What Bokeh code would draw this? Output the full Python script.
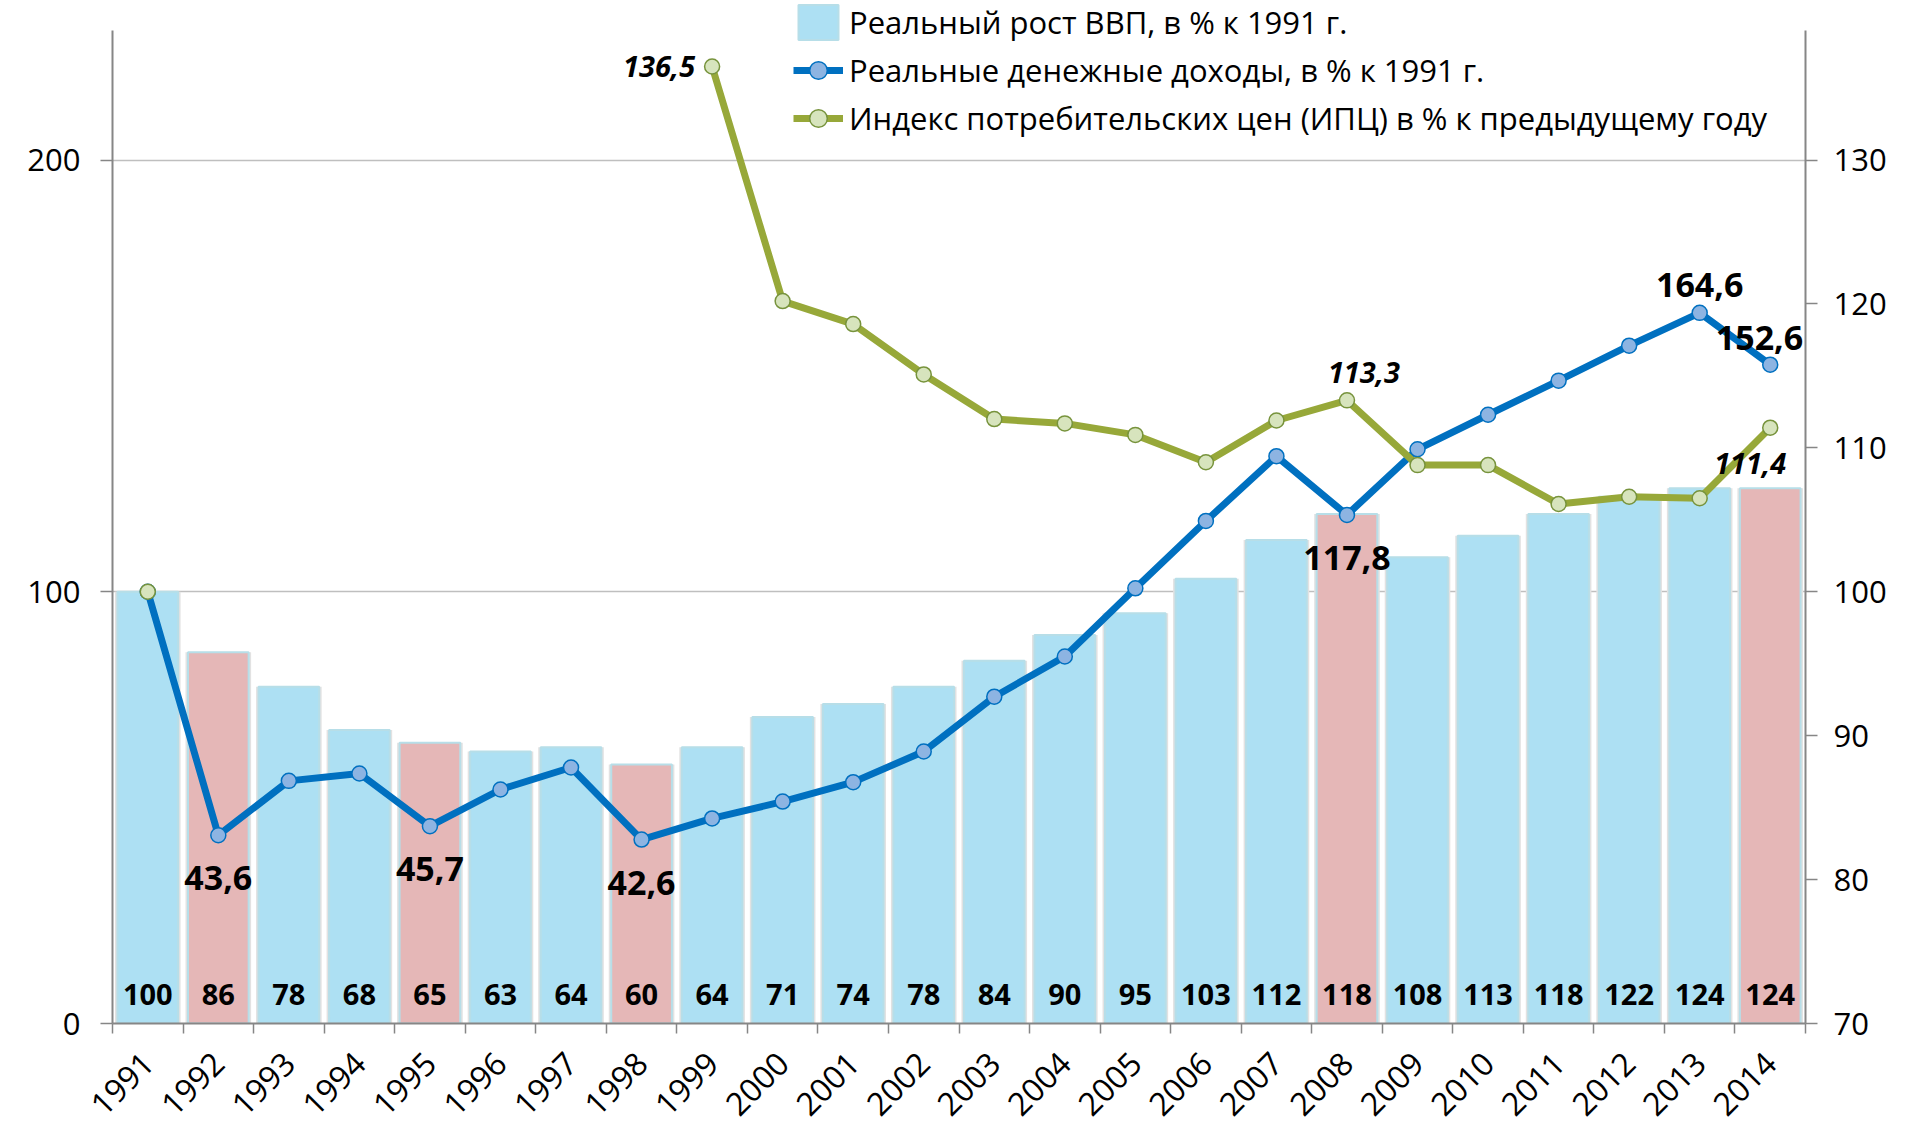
import numpy as np
from bokeh.plotting import figure
from bokeh.models import (ColumnDataSource, Range1d, LinearAxis, FixedTicker,
                          Legend, LegendItem, LabelSet)
from bokeh.core.properties import value
from bokeh.embed import file_html
from bokeh.resources import INLINE

# ---------------- data ----------------
years = list(range(1991, 2015))
gdp = [100, 86, 78, 68, 65, 63, 64, 60, 64, 71, 74, 78, 84, 90, 95, 103,
       112, 118, 108, 113, 118, 122, 124, 124]
crisis_years = [1992, 1995, 1998, 2008, 2014]
income = [100, 43.6, 56.2, 57.9, 45.7, 54.2, 59.3, 42.6, 47.5, 51.4, 55.9,
          63.0, 75.7, 85.0, 100.8, 116.4, 131.4, 117.8, 133.0, 141.0, 148.9,
          157.0, 164.6, 152.6]
nan = float("nan")
cpi = [100, nan, nan, nan, nan, nan, nan, nan, 136.5, 120.2, 118.6, 115.1,
       112.0, 111.7, 110.9, 109.0, 111.9, 113.3, 108.8, 108.8, 106.1, 106.6,
       106.5, 111.4]

left_ticks = [0, 100, 200]
right_ticks = [70, 80, 90, 100, 110, 120, 130]
left_max, right_min, right_max = 230, 70, 139

inc_below_years = [1992, 1995, 1998, 2008]
inc_above_years = [2013]
inc_aboveright_years = [2014]
cpi_left_years = [1999]
cpi_above_years = [2008]
cpi_below_years = [2014]

lbl_gdp = "Реальный рост ВВП, в % к 1991 г."
lbl_inc = "Реальные денежные доходы, в % к 1991 г."
lbl_cpi = "Индекс потребительских цен (ИПЦ) в % к предыдущему году"

# ---------------- helpers ----------------
BLUE_BAR = "#ADE0F3"
PINK_BAR = "#E5B7B7"
FONT = "Open Sans"


def fmt(v):
    return ("%.1f" % v).replace(".", ",")


xc = [i + 0.5 for i in range(len(years))]
bar_colors = [PINK_BAR if y in crisis_years else BLUE_BAR for y in years]
bar_src = ColumnDataSource(dict(x=xc, top=gdp, color=bar_colors,
                                lbl=[str(v) for v in gdp],
                                zero=[0] * len(years)))
inc_src = ColumnDataSource(dict(x=xc, y=income))
cpi_src = ColumnDataSource(dict(x=xc, y=cpi))


def lab_src(sel, series):
    xs, ys, ts = [], [], []
    for yr in sel:
        i = years.index(yr)
        xs.append(xc[i]); ys.append(series[i]); ts.append(fmt(series[i]))
    return ColumnDataSource(dict(x=xs, y=ys, t=ts))


# ---------------- figure ----------------
W, H = 1905, 1130
FRAME_BOTTOM, AXIS_TOP = 1023, 30
# frame reaches the top of the canvas so the legend is not clipped;
# axes are bounded to stop where the reference's axes stop
ext = FRAME_BOTTOM / (FRAME_BOTTOM - AXIS_TOP)
p = figure(width=W, height=H, output_backend="svg", toolbar_location=None,
           x_range=Range1d(0, 24), y_range=Range1d(0, left_max * ext),
           min_border_left=112, min_border_right=W - 1805, min_border_top=0,
           min_border_bottom=H - FRAME_BOTTOM, background_fill_color="white",
           border_fill_color="white", outline_line_color=None)
p.extra_y_ranges = {"right": Range1d(right_min,
                                     right_min + (right_max - right_min) * ext)}

AX = "#868686"
# x axis
xax = p.xaxis[0]
xax.ticker = FixedTicker(ticks=xc, minor_ticks=list(range(0, 25)))
xax.major_label_overrides = {x: str(y) for x, y in zip(xc, years)}
xax.major_label_orientation = np.pi / 4
xax.major_tick_out = 0
xax.major_tick_in = 0
xax.minor_tick_out = 10
xax.minor_tick_in = 0
xax.minor_tick_line_color = AX
xax.minor_tick_line_width = 1.5
xax.axis_line_color = AX
xax.axis_line_width = 2
xax.major_label_text_font = FONT
xax.major_label_text_font_size = "32px"
xax.major_label_text_color = "black"
xax.major_label_standoff = 24

# left axis
yax = p.yaxis[0]
yax.ticker = FixedTicker(ticks=left_ticks)
yax.bounds = (0, left_max)
yax.minor_tick_line_color = None
yax.major_tick_out = 12
yax.major_tick_in = 0
yax.major_tick_line_color = AX
yax.major_tick_line_width = 1.5
yax.axis_line_color = AX
yax.axis_line_width = 2
yax.major_label_text_font = FONT
yax.major_label_text_font_size = "31px"
yax.major_label_text_color = "black"
yax.major_label_standoff = 20

# right axis
rax = LinearAxis(y_range_name="right", ticker=FixedTicker(ticks=right_ticks),
                 bounds=(right_min, right_max))
rax.minor_tick_line_color = None
rax.major_tick_out = 12
rax.major_tick_in = 0
rax.major_tick_line_color = AX
rax.major_tick_line_width = 1.5
rax.axis_line_color = AX
rax.axis_line_width = 2
rax.major_label_text_font = FONT
rax.major_label_text_font_size = "31px"
rax.major_label_text_color = "black"
rax.major_label_standoff = 16
p.add_layout(rax, "right")

p.xgrid.grid_line_color = None
p.ygrid.grid_line_color = "#BFBFBF"
p.ygrid.grid_line_width = 1.5

# ---------------- bars ----------------
p.vbar(x="x", top="top", bottom=0, width=0.93, source=bar_src,
       fill_color="#E2E2E2", line_color=None)
bars = p.vbar(x="x", top="top", bottom=0, width=0.86, source=bar_src,
              fill_color="color", line_color="#B7DEE8", line_width=2)

p.text(x="x", y="zero", text="lbl", source=bar_src, text_align="center",
       text_baseline="middle", y_offset=-29, text_font=value(FONT),
       text_font_style="bold", text_font_size="29px", text_color="black")

# ---------------- lines ----------------
inc_line = p.line(x="x", y="y", source=inc_src, line_color="#0070C0",
                  line_width=7, line_join="round")
inc_pts = p.scatter(x="x", y="y", source=inc_src, size=15,
                    fill_color="#8DB4E2", line_color="#0070C0", line_width=1.5)

cpi_line = p.line(x="x", y="y", source=cpi_src, y_range_name="right",
                  line_color="#97A839", line_width=7, line_join="round")
cpi_pts = p.scatter(x="x", y="y", source=cpi_src, y_range_name="right",
                    size=15, fill_color="#D7E4BD", line_color="#77933C",
                    line_width=1.5)

# ---------------- labels ----------------
bold = dict(text_font=value(FONT), text_font_style="bold",
            text_font_size="34px", text_color="black", text="t",
            x="x", y="y", text_baseline="middle")
p.add_layout(LabelSet(source=lab_src(inc_below_years, income),
                      text_align="center", y_offset=-43, **bold))
p.add_layout(LabelSet(source=lab_src(inc_above_years, income),
                      text_align="center", y_offset=28, **bold))
# kept inside the frame (Bokeh clips annotations to the plot frame)
p.add_layout(LabelSet(source=lab_src(inc_aboveright_years, income),
                      text_align="right", y_offset=27, x_offset=33, **bold))

ital = dict(text_font=value(FONT), text_font_style="bold italic",
            text_font_size="29px", text_color="black", text="t",
            x="x", y="y", text_baseline="middle", y_range_name="right")
p.add_layout(LabelSet(source=lab_src(cpi_left_years, cpi),
                      text_align="right", x_offset=-17, **ital))
p.add_layout(LabelSet(source=lab_src(cpi_above_years, cpi),
                      text_align="center", y_offset=28, x_offset=17, **ital))
p.add_layout(LabelSet(source=lab_src(cpi_below_years, cpi),
                      text_align="center", y_offset=-36, x_offset=-20, **ital))

# ---------------- legend ----------------
legend = Legend(items=[
    LegendItem(label=lbl_gdp, renderers=[bars], index=0),
    LegendItem(label=lbl_inc, renderers=[inc_line, inc_pts]),
    LegendItem(label=lbl_cpi, renderers=[cpi_line, cpi_pts]),
], location=(681, FRAME_BOTTOM - 140), orientation="vertical", glyph_width=50,
    glyph_height=44, label_height=44, spacing=4, padding=0, margin=0,
    border_line_color=None, background_fill_alpha=0,
    label_text_font=FONT, label_text_font_size="31px",
    label_text_color="black", label_standoff=6)
p.add_layout(legend)

open("out.html", "w").write(file_html(p, INLINE))
